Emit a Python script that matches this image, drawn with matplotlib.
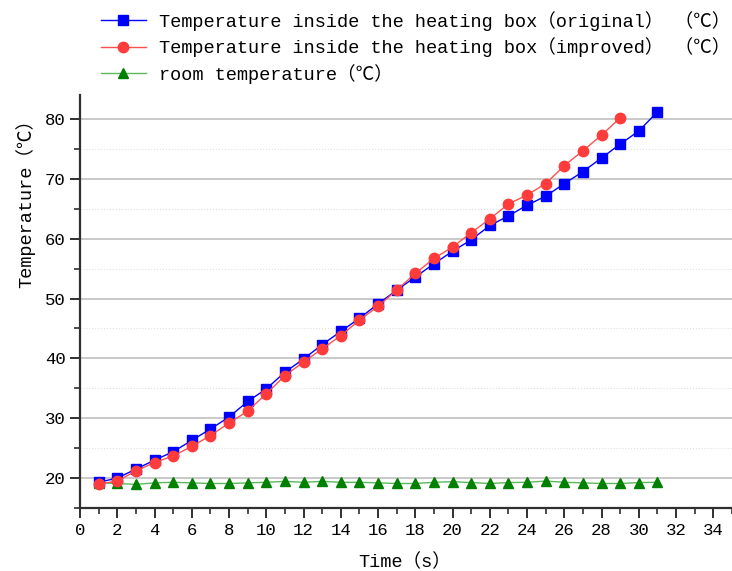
import matplotlib
matplotlib.use("Agg")
import matplotlib.pyplot as plt
from matplotlib.ticker import MultipleLocator

plt.rcParams['font.family'] = ['Liberation Mono', 'Noto Sans CJK SC', 'DejaVu Sans']

t_original = list(range(1, 32))
temp_original = [19.3, 20.0, 21.5, 23.0, 24.4, 26.3, 28.2, 30.2, 32.8, 34.9,
                 37.7, 39.9, 42.3, 44.5, 46.7, 49.1, 51.4, 53.6, 55.8, 57.9,
                 59.8, 62.2, 63.8, 65.6, 67.1, 69.2, 71.2, 73.5, 75.8, 78.0, 81.2]

t_improved = list(range(1, 30))
temp_improved = [19.0, 19.5, 21.2, 22.6, 23.7, 25.3, 27.1, 29.2, 31.2, 34.1,
                 37.1, 39.4, 41.6, 43.8, 46.4, 48.7, 51.4, 54.2, 56.7, 58.6,
                 61.0, 63.3, 65.8, 67.3, 69.2, 72.2, 74.7, 77.3, 80.2]

t_room = list(range(1, 32))
temp_room = [19.2, 19.1, 18.95, 19.2, 19.3, 19.2, 19.1, 19.1, 19.2, 19.3,
             19.45, 19.3, 19.45, 19.3, 19.3, 19.2, 19.1, 19.1, 19.3, 19.4,
             19.25, 19.1, 19.25, 19.3, 19.5, 19.3, 19.2, 19.1, 19.1, 19.25, 19.3]

labels = ["Temperature inside the heating box（original） （℃）",
          "Temperature inside the heating box（improved） （℃）",
          "room temperature（℃）"]

fig = plt.figure(figsize=(7.32, 5.71), dpi=100)
ax = fig.add_axes([0.1093, 0.1103, 0.8907, 0.7233])

ax.plot(t_original, temp_original, color='#0000ff', lw=1, marker='s', ms=7,
        mec='#0000ff', label=labels[0], zorder=3)
ax.plot(t_improved, temp_improved, color='#ff5050', lw=1, marker='o', ms=7.5,
        mfc='#ff3c3c', mec='#ff3c3c', label=labels[1], zorder=4)
ax.plot(t_room, temp_room, color='#5cb85c', lw=1, marker='^', ms=7.5,
        mfc='#008000', mec='#008000', label=labels[2], zorder=3)

ax.set_xlim(0, 35)
ax.set_ylim(15, 84)
ax.xaxis.set_major_locator(MultipleLocator(2))
ax.xaxis.set_minor_locator(MultipleLocator(1))
ax.yaxis.set_minor_locator(MultipleLocator(5))
ax.set_yticks([20, 30, 40, 50, 60, 70, 80])

ax.grid(axis='y', which='major', color='#c0c0c0', lw=1.2, ls='-')
ax.grid(axis='y', which='minor', color='#e0e0e0', lw=0.8, ls=':')
ax.set_axisbelow(True)

for s in ['top', 'right']:
    ax.spines[s].set_visible(False)
for s in ['left', 'bottom']:
    ax.spines[s].set_linewidth(1.6)
    ax.spines[s].set_color('#303030')

ax.tick_params(which='major', direction='out', length=7, width=1.4,
               labelsize=12.5, color='#303030')
ax.tick_params(which='minor', direction='out', length=4, width=1.2,
               color='#303030')

ax.set_xlabel("Time（s）", fontsize=13.4, va='center')
ax.xaxis.set_label_coords(0.4986, -0.131)
ax.set_ylabel("Temperature（℃）", fontsize=13.4, va='center')
ax.yaxis.set_label_coords(-0.084, 0.748)

fig.legend(loc='upper left', bbox_to_anchor=(0.12, 1.004), frameon=False,
           fontsize=13.4, handlelength=2.4, handletextpad=0.7,
           labelspacing=0.35, borderaxespad=0.3)

fig.savefig("out.png", dpi=100)
